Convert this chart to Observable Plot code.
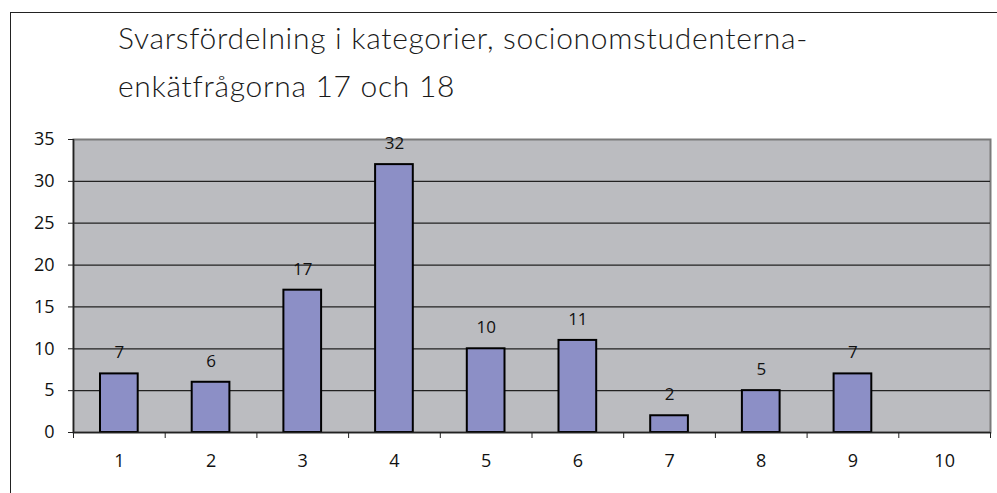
<!DOCTYPE html>
<html>
<head>
<meta charset="utf-8">
<script src="https://cdn.jsdelivr.net/npm/d3@7"></script>
<script src="https://cdn.jsdelivr.net/npm/@observablehq/plot@0.6"></script>
<style>
  html, body { margin: 0; padding: 0; background: #fff; width: 997px; height: 493px; overflow: hidden; }
  #border { position: absolute; left: 10px; top: 12px; width: 1100px; height: 600px; border-left: 1.5px solid #222; border-top: 1.5px solid #222; }
  #title { position: absolute; left: 118px; top: 13px; font-family: Lato, "Open Sans", sans-serif; font-weight: 300; font-size: 30px; line-height: 48px; letter-spacing: 0.7px; color: #1a1a1a; white-space: nowrap; }
  #chart { position: absolute; left: 0; top: 125px; }
</style>
</head>
<body>
<div id="border"></div>
<div id="title">Svarsfördelning i kategorier, socionomstudenterna-<br>enkätfrågorna 17 och 18</div>
<div id="chart"></div>
<script>
const categories = [1, 2, 3, 4, 5, 6, 7, 8, 9, 10];
const counts = [7, 6, 17, 32, 10, 11, 2, 5, 7, 0];
const yTicks = [0, 5, 10, 15, 20, 25, 30, 35];
const gridValues = [5, 10, 15, 20, 25, 30];

const data = categories.map((c, i) => ({cat: c, value: counts[i]}));
const boundaries = [0, ...categories].map(c => c + 0.5);

const fontFamily = "'Open Sans', 'Noto Sans', sans-serif";

const chart = Plot.plot({
  width: 997,
  height: 368,
  marginLeft: 73,
  marginRight: 7,
  marginTop: 14,
  marginBottom: 61,
  style: {fontFamily, fontSize: "17px", color: "#111", background: "transparent"},
  x: {domain: [0.5, 10.5]},
  y: {domain: [0, 35]},
  marks: [
    Plot.frame({fill: "#bbbcc0", stroke: "#7a7a7a", strokeWidth: 2}),
    Plot.ruleY(gridValues, {stroke: "#222", strokeWidth: 1.3}),
    Plot.rectY(data.filter(d => d.value > 0), {
      x1: d => d.cat - 0.5, x2: d => d.cat + 0.5, y: "value",
      insetLeft: 27, insetRight: 27,
      fill: "#8c8fc6", stroke: "#000", strokeWidth: 2
    }),
    Plot.text(data.filter(d => d.value > 0), {x: "cat", y: "value", text: d => String(d.value), dy: -21, fontSize: 17, fill: "#111"}),
    Plot.ruleY([0], {stroke: "#222", strokeWidth: 1.5}),
    Plot.ruleX([0.5], {stroke: "#222", strokeWidth: 1.5}),
    Plot.axisY({ticks: yTicks, tickSize: 5, tickPadding: 14, fontSize: 18, tickFormat: d => String(d), label: null, stroke: "#222"}),
    Plot.axisX({ticks: boundaries, tickSize: 6, tickFormat: () => "", label: null, stroke: "#222"}),
    Plot.axisX({ticks: categories, tickSize: 0, tickPadding: 22, fontSize: 18, tickFormat: d => String(d), label: null})
  ]
});
d3.select(chart).selectAll("g[aria-label$='tick label']").attr("font-size", 18).selectAll("text").attr("font-size", 18);
document.getElementById("chart").appendChild(chart);
</script>
</body>
</html>
